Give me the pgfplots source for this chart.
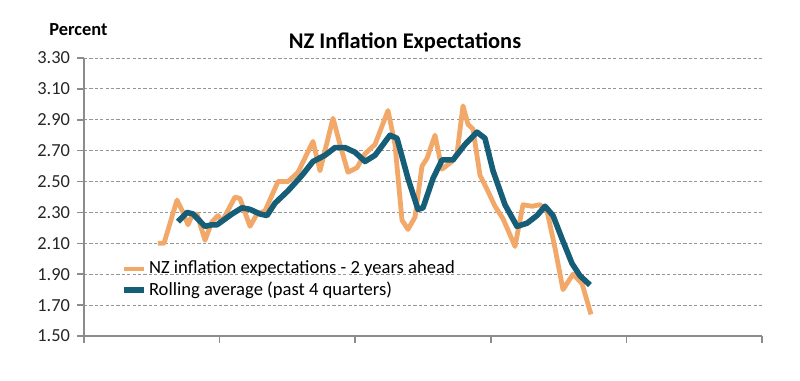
\documentclass[border=0pt]{standalone}
\usepackage{pgfplots}
\pgfplotsset{compat=1.18}
\usepackage{fontspec}
\setmainfont{Carlito}
\definecolor{nzorange}{RGB}{242,168,105}
\definecolor{nzblue}{RGB}{22,94,120}
\definecolor{axgray}{RGB}{140,140,140}
\definecolor{gridgray}{RGB}{150,150,150}
\begin{document}
\begin{tikzpicture}
\useasboundingbox (0,0) rectangle (400pt,190.5pt);
\begin{axis}[
  at={(42pt,22.5pt)}, anchor=south west,
  scale only axis, width=339pt, height=139pt,
  xmin=84, xmax=762, ymin=1.5, ymax=3.3,
  axis x line*=bottom, axis y line*=left,
  axis line style={axgray, line width=0.8pt},
  xtick={84,219.6,355.2,490.8,626.4,762}, xticklabels={},
  ytick={1.5,1.7,...,3.31},
  tick align=outside, tick style={axgray, line width=0.8pt},
  major tick length=3.5pt,
  ymajorgrids, grid style={gridgray, dash pattern=on 1.6pt off 1.1pt, line width=0.5pt},
  yticklabel style={font=\fontsize{9.2}{10}\selectfont, text=black!85},
  /pgf/number format/assume math mode=true,
  /pgf/number format/.cd, fixed, fixed zerofill, precision=2, /pgfplots/.cd,
  legend style={at={(0.054,0.28)}, anchor=north west, draw=none, fill=none,
    font=\fontsize{9.3}{10}\selectfont, row sep=0pt, inner sep=0pt,
    nodes={inner sep=1.2pt}},
  legend cell align=left,
  legend image code/.code={\draw[#1] (0pt,0pt) -- (10pt,0pt);},
  clip=false,
]
\addplot[nzorange, line width=2.4pt, line join=round] coordinates {
(158,2.10) (164,2.10) (177,2.38) (183,2.30) (188,2.22) (192,2.28) (197,2.29)
(205,2.12) (212,2.24) (218,2.28) (222,2.24) (235,2.40) (240,2.39) (250,2.21)
(257,2.29) (265,2.31) (278,2.50) (288,2.50) (298,2.56) (313,2.76) (320,2.57)
(333,2.91) (340,2.74) (348,2.56) (357,2.59) (365,2.68) (375,2.74) (388,2.96)
(395,2.74) (402,2.25) (408,2.19) (415,2.27) (422,2.60) (427,2.65) (435,2.80)
(442,2.58) (452,2.63) (457,2.68) (463,2.99) (468,2.87) (473,2.84) (480,2.54)
(487,2.45) (495,2.34) (503,2.26) (515,2.08) (523,2.35) (532,2.34) (540,2.35)
(547,2.31) (555,2.07) (563,1.80) (573,1.90) (582,1.84) (591,1.64)
};
\addlegendentry{NZ inflation expectations - 2 years ahead}
\addplot[nzblue, line width=2.8pt, line join=round] coordinates {
(178,2.24) (187,2.30) (193,2.29) (205,2.21) (212,2.22) (217,2.22) (232,2.29)
(242,2.33) (250,2.32) (260,2.29) (267,2.28) (275,2.36) (288,2.44) (302,2.54)
(313,2.63) (325,2.67) (335,2.72) (345,2.72) (355,2.69) (365,2.63) (375,2.67)
(390,2.80) (397,2.78) (408,2.52) (418,2.32) (423,2.33) (433,2.52) (442,2.64)
(453,2.64) (465,2.74) (477,2.82) (485,2.78) (493,2.57) (505,2.35) (517,2.21)
(527,2.23) (537,2.28) (545,2.34) (553,2.28) (562,2.13) (572,1.97) (580,1.89)
(590,1.83)
};
\addlegendentry{Rolling average (past 4 quarters)}
\end{axis}
\node[anchor=center, font=\fontsize{11.2}{13}\selectfont\bfseries] at (202.5pt,169.5pt) {NZ Inflation Expectations};
\node[anchor=west, inner sep=0pt, font=\fontsize{9.2}{11}\selectfont\bfseries] at (24.5pt,175.5pt) {Percent};
\end{tikzpicture}
\end{document}
